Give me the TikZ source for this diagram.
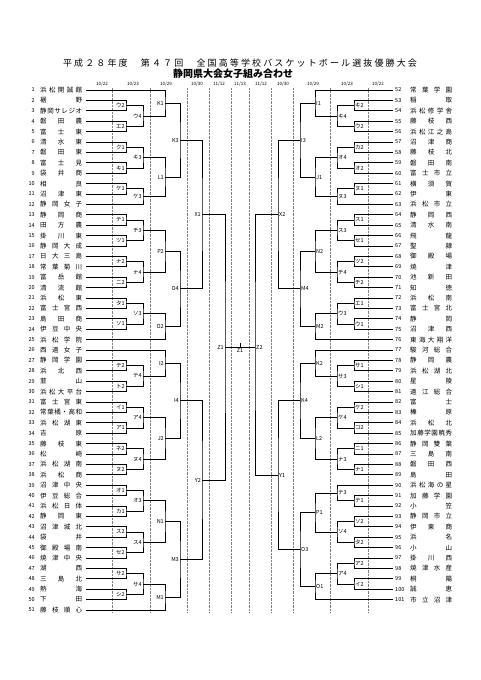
\documentclass[tikz,border=0pt]{standalone}
\usepackage{fontspec}
\usepackage{tikz}
\usetikzlibrary{calc}
\newfontfamily\jfont{Noto Sans CJK JP}
\def\spreadi#1#2{#1\ifx\relax#2\else\hfill\expandafter\spreadi\fi#2}
\newcommand\spreadbox[2]{\makebox[#1][s]{\expandafter\spreadi#2\relax}}
\newcommand\jname[1]{\spreadbox{42pt}{#1}}
\newcommand\rnd[3]{%
  \foreach \n/\a/\b/\l in {#3}{
    \coordinate (m) at ($(\a)!0.5!(\b)$);
    \coordinate (\n) at (m -| #1);
    \draw[brk] (\a) -| (\n) |- (\b);
    \node[lbl,anchor=#2] (b\n) at (\n) {\l};
  }}

\begin{document}
\begin{tikzpicture}[x=1pt,y=-1pt,
  brk/.style={line width=0.9pt},
  guide/.style={gray,densely dotted,line width=0.4pt},
  lbl/.style={font=\jfont\fontsize{5.5}{6}\selectfont,inner sep=1pt},
  num/.style={font=\jfont\fontsize{5.5}{6}\selectfont,inner sep=0pt},
  tname/.style={font=\jfont\fontsize{6.5}{7}\selectfont,inner sep=0pt},
  day/.style={font=\jfont\fontsize{4.5}{5}\selectfont,inner sep=0pt}]
\useasboundingbox (0,0) rectangle (481,680);

\node[font=\jfont\fontsize{9}{10}\selectfont,inner sep=0pt] (title) at (240,63)
  {\spreadbox{354pt}{平成２８年度　第４７回　全国高等学校バスケットボール選抜優勝大会}};
\node[font=\jfont\bfseries\fontsize{10}{11}\selectfont,inner sep=0pt] (sub) at (233,74) {静岡県大会女子組み合わせ};

\foreach \x/\d in {102/{10/22},133/{10/23},166/{10/29},197/{10/30},219/{11/12},240/{11/13},
                   261/{11/12},283/{10/30},313/{10/29},347/{10/23},378/{10/22}}
  \node[day] (d\x) at (\x,84) {\d};
\foreach \x in {112,150,187,209,231,249,271,293,330,368}
  \draw[guide] (\x,88) -- (\x,613);

\coordinate (La) at (126,0); \coordinate (Lb) at (143,0); \coordinate (Lc) at (165,0);
\coordinate (Ld) at (180,0); \coordinate (Le) at (202,0); \coordinate (Lf) at (225,0);
\coordinate (Ra) at (354,0); \coordinate (Rb) at (337,0); \coordinate (Rc) at (315,0);
\coordinate (Rd) at (300,0); \coordinate (Re) at (278,0); \coordinate (Rf) at (255,0);

\foreach \i/\s in {1/浜松開誠館,2/裾野,3/静岡サレジオ,4/磐田農,5/富士東,6/清水東,7/磐田東,
    8/富士見,9/袋井商,10/相良,11/沼津東,12/静岡女子,13/静岡商,14/田方農,15/掛川東,
    16/静岡大成,17/日大三島,18/常葉菊川,19/富岳館,20/清流館,21/浜松東,22/富士宮西,
    23/島田商,24/伊豆中央,25/浜松学院,26/西遠女子,27/静岡学園,28/浜北西,29/韮山,
    30/浜松大平台,31/富士宮東,32/常葉橘・高和,33/浜松湖東,34/吉原,35/藤枝東,36/松崎,
    37/浜松湖南,38/浜松商,39/沼津中央,40/伊豆総合,41/浜松日体,42/静岡東,43/沼津城北,
    44/袋井,45/御殿場南,46/焼津中央,47/湖西,48/三島北,49/熱海,50/下田,51/藤枝順心}{
  \coordinate (t\i) at (86,{90+(\i-1)*10.4});
  \node[num,anchor=east] (no\i) at (35,{90+(\i-1)*10.4}) {\i};
  \node[tname,anchor=west] (nm\i) at (40,{90+(\i-1)*10.4}) {\jname{\s}};
}
\foreach \i/\s in {52/常葉学園,53/稲取,54/浜松修学舎,55/藤枝西,56/浜松江之島,57/沼津商,
    58/藤枝北,59/磐田南,60/富士市立,61/横須賀,62/伊東,63/浜松市立,64/静岡西,65/清水南,
    66/飛龍,67/聖隷,68/御殿場,69/焼津,70/池新田,71/知徳,72/浜松南,73/富士宮北,74/静岡,
    75/沼津西,76/東海大翔洋,77/駿河総合,78/静岡農,79/浜松湖北,80/星陵,81/遠江総合,82/富士,
    83/榛原,84/浜松北,85/加藤学園暁秀,86/静岡雙葉,87/三島南,88/磐田西,89/島田,
    90/浜松海の星,91/加藤学園,92/小笠,93/静岡市立,94/伊東商,95/浜名,96/小山,97/掛川西,
    98/焼津水産,99/桐陽,100/誠恵,101/市立沼津}{
  \coordinate (t\i) at (393,{90+(\i-52)*10.4});
  \node[num,anchor=west] (no\i) at (395,{90+(\i-52)*10.4}) {\i};
  \node[tname,anchor=west] (nm\i) at (410,{90+(\i-52)*10.4}) {\jname{\s}};
}

\rnd{La}{east}{lu2/t2/t3/ウ2,le2/t4/t5/エ2,lku1/t6/t7/ク1,lki1/t8/t9/キ1,lke1/t10/t11/ケ1,
  lte1/t13/t14/テ1,ltsu1/t15/t16/ツ1,lna2/t17/t18/ナ2,lni2/t19/t20/ニ2,lta1/t21/t22/タ1,
  lso1/t23/t24/ソ1,lte2/t27/t28/テ2,lto2/t29/t30/ト2,li1/t31/t32/イ1,la1/t33/t34/ア1,
  lne2/t35/t36/ネ2,lnu2/t37/t38/ヌ2,lo1/t39/t40/オ1,lka1/t41/t42/カ1,lsu2/t43/t44/ス2,
  lse2/t45/t46/セ2,lsa2/t47/t48/サ2,lshi2/t49/t50/シ2}
\rnd{Lb}{east}{lu4/lu2/le2/ウ4,lki3/lku1/lki1/キ3,lke3/lke1/t12/ケ3,lchi3/lte1/ltsu1/チ3,
  lna4/lna2/lni2/ナ4,lso3/lta1/lso1/ソ3,lte4/lte2/lto2/テ4,la4/li1/la1/ア4,
  lnu4/lne2/lnu2/ヌ4,lo3/lo1/lka1/オ3,lsu4/lsu2/lse2/ス4,lsa4/lsa2/lshi2/サ4}
\rnd{Lc}{east}{lK1/t1/lu4/K1,lL1/lki3/lke3/L1,lP2/lchi3/lna4/P2,lO2/lso3/t25/O2,
  lI2/t26/lte4/I2,lJ2/la4/lnu4/J2,lN1/lo3/lsu4/N1,lM1/lsa4/t51/M1}
\rnd{Ld}{east}{lK3/lK1/lL1/K3,lO4/lP2/lO2/O4,lI4/lI2/lJ2/I4,lM3/lN1/lM1/M3}
\rnd{Le}{east}{lX1/lK3/lO4/X1,lY2/lI4/lM3/Y2}
\rnd{Lf}{east}{lZ1/lX1/lY2/Z1}

\rnd{Ra}{west}{rki2/t53/t54/キ2,ru2/t55/t56/ウ2,rka2/t57/t58/カ2,ro2/t59/t60/オ2,
  rnu1/t61/t62/ヌ1,rsu1/t64/t65/ス1,rse1/t66/t67/セ1,rtsu2/t68/t69/ツ2,rchi2/t70/t71/チ2,
  re1/t72/t73/エ1,ru1/t74/t75/ウ1,rsa1/t78/t79/サ1,rshi1/t80/t81/シ1,rke2/t82/t83/ケ2,
  rko2/t84/t85/コ2,rni1/t86/t87/ニ1,rna1/t88/t89/ナ1,rte1/t91/t92/テ1,rso2/t93/t94/ソ2,
  rta2/t95/t96/タ2,ra2/t97/t98/ア2,ri2/t99/t100/イ2}
\rnd{Rb}{west}{rki4/rki2/ru2/キ4,ro4/rka2/ro2/オ4,rnu3/rnu1/t63/ヌ3,rsu3/rsu1/rse1/ス3,
  rchi4/rtsu2/rchi2/チ4,ru3/re1/ru1/ウ3,rsa3/rsa1/rshi1/サ3,rke4/rke2/rko2/ケ4,
  rna3/rni1/rna1/ナ3,rte3/t90/rte1/テ3,rso4/rso2/rta2/ソ4,ra4/ra2/ri2/ア4}
\rnd{Rc}{west}{rI1/t52/rki4/I1,rJ1/ro4/rnu3/J1,rN2/rsu3/rchi4/N2,rM2/ru3/t76/M2,
  rK2/t77/rsa3/K2,rL2/rke4/rna3/L2,rP1/rte3/rso4/P1,rO1/ra4/t101/O1}
\rnd{Rd}{west}{rI3/rI1/rJ1/I3,rM4/rN2/rM2/M4,rK4/rK2/rL2/K4,rO3/rP1/rO1/O3}
\rnd{Re}{west}{rX2/rI3/rM4/X2,rY1/rK4/rO3/Y1}

\coordinate (rZ2) at (lZ1 -| Rf);
\draw[brk] (rX2) -| (rZ2) |- (rY1);
\node[lbl,anchor=west] (brZ2) at (rZ2) {Z2};
\coordinate (fin) at ($(lZ1)!0.5!(rZ2)$);
\draw[brk] (lZ1) -- (rZ2);
\draw[brk] (fin) -- ++(0,-4);
\node[lbl,anchor=north] (bfin) at (fin) {Z1};
\end{tikzpicture}
\end{document}
